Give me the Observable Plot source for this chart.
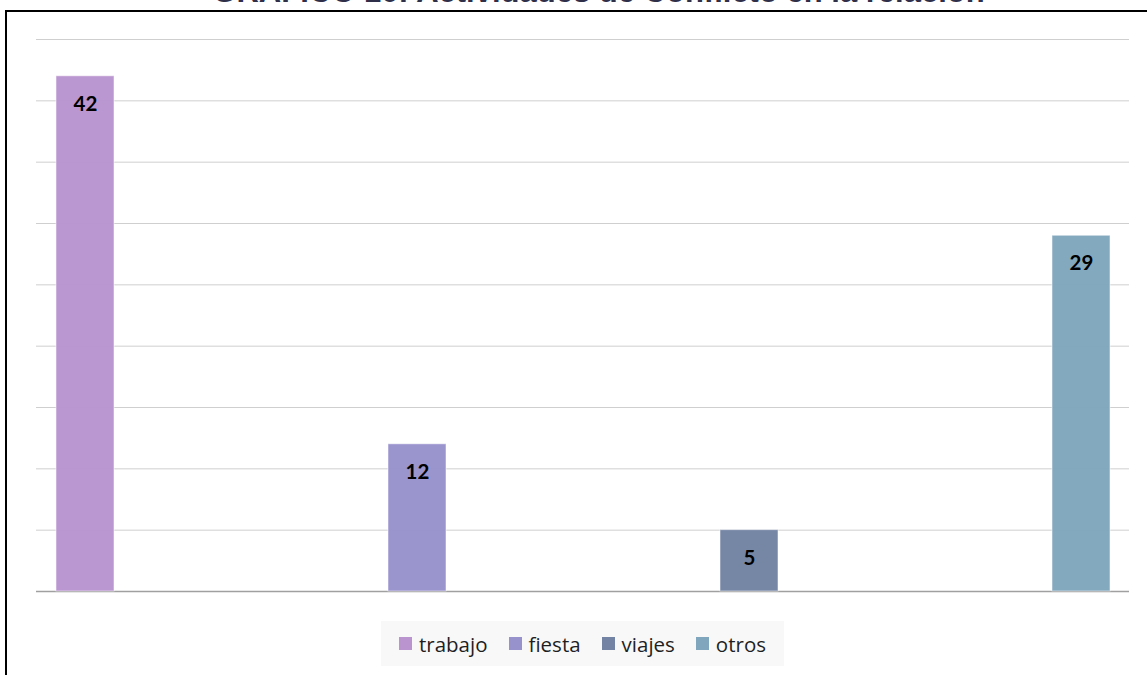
<!DOCTYPE html>
<html>
<head>
<meta charset="utf-8">
<script src="https://cdn.jsdelivr.net/npm/d3@7"></script>
<script src="https://cdn.jsdelivr.net/npm/@observablehq/plot@0.6"></script>
<style>
  html, body { margin:0; padding:0; width:1147px; height:675px; overflow:hidden; background:#fff; }
  #frame { position:absolute; left:5px; top:10px; width:1160px; height:700px; border-left:2px solid #000; border-top:2px solid #000; box-sizing:border-box; }
  #title { position:absolute; left:25px; top:-24px; width:1147px; text-align:center; font-family:"Liberation Sans", Arial, sans-serif; font-weight:bold; font-size:31px; line-height:31px; color:#2f2f4a; white-space:nowrap; }
  #chart { position:absolute; left:0; top:0; }
  #legend { position:absolute; left:381px; top:621px; width:403px; height:45px; background:#f8f8f8; display:flex; align-items:center; justify-content:center; font-family:"Open Sans", Lato, sans-serif; font-size:20.5px; color:#1f1f1f; font-variant-ligatures:none; }
  .item { display:flex; align-items:center; margin:0 10.5px; }
  .sw { width:13px; height:13px; margin-right:7px; }
</style>
</head>
<body>
<div id="frame"></div>
<div id="title">GRÁFICO 10: Actividades de Conflicto en la relación</div>
<div id="chart"></div>
<div id="legend"></div>
<script>
const categories = ["trabajo", "fiesta", "viajes", "otros"];
const values = [42, 12, 5, 29];
const colors = ["#b994cf", "#9892cc", "#7283a3", "#7fa6bd"];
const yTicks = [0, 5, 10, 15, 20, 25, 30, 35, 40, 45];

const data = categories.map((c, i) => ({category: c, value: values[i]}));

const chart = Plot.plot({
  width: 1147,
  height: 600,
  marginTop: 39,
  marginBottom: 9,
  marginLeft: 36,
  marginRight: 18,
  style: {background: "transparent", overflow: "visible"},
  x: {domain: categories, axis: null, paddingInner: 0.8256, paddingOuter: 0.0564},
  y: {domain: [0, 45], axis: null},
  color: {domain: categories, range: colors},
  marks: [
    Plot.ruleY(yTicks.filter(d => d > 0), {stroke: "#cfcfcf", strokeWidth: 1}),
    Plot.ruleY([0], {stroke: "#a0a0a0", strokeWidth: 1.5}),
    Plot.barY(data, {x: "category", y: "value", fill: "category", fillOpacity: 0.97, stroke: "#ffffff", strokeOpacity: 0.5, strokeWidth: 1}),
    Plot.text(data, {x: "category", y: "value", text: d => String(d.value), dy: 28, fontWeight: "bold", fontSize: 20.5, fill: "#000", fontFamily: "Lato, 'Liberation Sans', sans-serif"})
  ]
});
document.getElementById("chart").appendChild(chart);

const legend = document.getElementById("legend");
categories.forEach((c, i) => {
  const item = document.createElement("div");
  item.className = "item";
  const sw = document.createElement("span");
  sw.className = "sw";
  sw.style.background = colors[i];
  const label = document.createElement("span");
  label.textContent = c;
  item.appendChild(sw);
  item.appendChild(label);
  legend.appendChild(item);
});
</script>
</body>
</html>
